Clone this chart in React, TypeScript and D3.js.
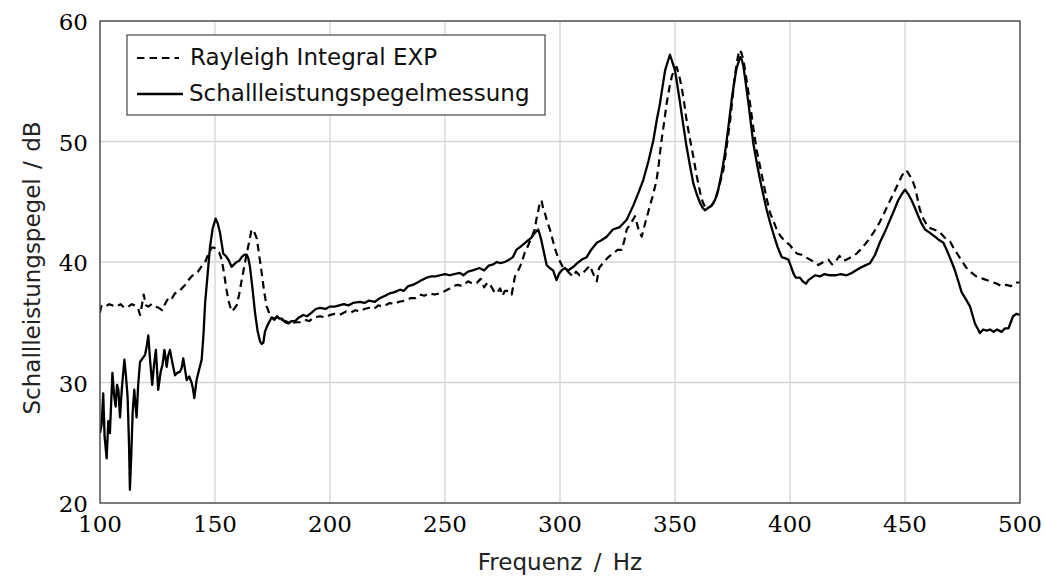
import React from "react";
import * as d3 from "d3";

const xTicks = [100, 150, 200, 250, 300, 350, 400, 450, 500];
const yTicks = [20, 30, 40, 50, 60];
const seriesNames = ["Rayleigh Integral EXP", "Schallleistungspegelmessung"];

// Schallleistungspegelmessung (solid): [Hz, dB]
const measured: [number, number][] = [
  [100, 25.8], [100.7, 26.5], [101.4, 29.1], [102, 25.5], [102.9, 23.7], [103.6, 26.8], [104.3, 25.8],
  [105.4, 30.8], [106.1, 29], [106.8, 28], [107.4, 29.8], [108, 29.4], [108.7, 27.1], [109.5, 29.5],
  [110.6, 31.9], [111.3, 30.5], [112, 28.8], [112.6, 25], [113, 21.1], [113.6, 24], [114.2, 27.5],
  [114.9, 29.4], [115.9, 27.1], [116.6, 29.8], [117.4, 31.7], [118.5, 32], [119.6, 32.3], [120.3, 33],
  [121, 33.9], [121.8, 31.8], [122.7, 29.8], [123.5, 31.5], [124.3, 32.7], [125.3, 29.4], [126.4, 30.9],
  [127.2, 31.5], [128, 32.7], [129, 31.3], [129.6, 32.2], [130.4, 32.7], [131.5, 31.6], [132.6, 30.6],
  [133.6, 30.8], [134.8, 30.9], [135.5, 31.2], [136.2, 32], [137.7, 30.2], [138.8, 30.5], [139.8, 30],
  [140.4, 29.5], [141, 28.7], [142, 30.2], [143, 31], [144.2, 31.9], [145, 34], [145.7, 36.6],
  [146.8, 39], [147.8, 41.2], [149, 42.8], [150.3, 43.6], [151.2, 43.2], [152.2, 42.4], [153.6, 40.7],
  [154.7, 40.5], [155.8, 40.2], [157.2, 39.6], [158.3, 39.8], [159.4, 40], [160.5, 40.1], [161.6, 40.4],
  [162.7, 40.6], [163.8, 40.6], [164.5, 40.3], [165.2, 39.6], [166.3, 37.8], [167.4, 35.8], [168.5, 34.3],
  [169.6, 33.4], [170.3, 33.2], [171, 33.3], [171.7, 34.2], [172.5, 34.6], [173.5, 35], [174.6, 35.4],
  [175.8, 35.2], [177, 35.5], [178, 35.3], [179, 35.3], [180.5, 35], [181.9, 34.9], [183.3, 35.1],
  [184.8, 35.1], [186.5, 35.4], [188.4, 35.6], [190, 35.5], [192, 35.8], [193.8, 36.1], [195.7, 36.2],
  [198, 36.1], [200, 36.3], [202, 36.3], [204, 36.4], [206, 36.5], [208, 36.4], [210, 36.6], [213, 36.7],
  [215, 36.6], [217, 36.8], [219.5, 36.7], [221.7, 37], [224, 37.2], [226, 37.4], [228, 37.5],
  [230.4, 37.7], [232, 37.6], [234, 38], [236, 38.1], [238, 38.3], [240, 38.5], [242, 38.7], [244, 38.8],
  [246, 38.8], [247.8, 38.9], [250, 39], [252, 38.9], [254, 39], [256.5, 39.1], [258, 38.9], [260, 39.2],
  [262, 39.3], [265, 39.5], [267, 39.3], [269, 39.7], [271, 39.8], [272.5, 40], [274, 39.9], [276, 40],
  [278, 40.2], [279.5, 40.4], [281, 41], [283, 41.3], [285.5, 41.7], [287.5, 42], [289, 42.4],
  [290.5, 42.7], [291.2, 42.3], [292, 41.7], [293, 40.8], [294.2, 39.75], [295.5, 39.5], [297, 39.3],
  [298.5, 38.5], [299.5, 39], [300.7, 39.3], [302, 39.5], [303.5, 39.3], [305.8, 39.6], [307.5, 39.9],
  [309.5, 40.2], [311.6, 40.4], [313.5, 41], [316, 41.6], [318, 41.8], [320.3, 42.1], [323, 42.7],
  [326, 42.9], [329, 43.5], [331.9, 44.7], [334, 45.7], [336.2, 46.8], [338.5, 48.4], [340.6, 50.1],
  [342, 51.7], [343.5, 53.2], [344.7, 54.7], [345.7, 55.9], [346.8, 56.6], [347.8, 57.2], [349, 56.5],
  [350, 55.9], [351, 54.7], [352.2, 53.2], [353.5, 51.5], [355, 49.6], [356.5, 48], [358, 46.5],
  [359.5, 45.6], [360.9, 44.9], [362, 44.5], [363, 44.3], [364.5, 44.5], [366, 44.7], [367.5, 45.2],
  [368.8, 46], [370.2, 47.3], [371.7, 49], [373.2, 51.2], [374.6, 53.4], [375.8, 55], [376.8, 56.1],
  [378.3, 57], [379, 56.8], [379.7, 56.3], [380.8, 54.8], [381.9, 53.2], [383, 51.5], [384, 49.9],
  [385.5, 48.3], [387, 46.8], [388.5, 45.5], [389.9, 44.3], [391.3, 43.3], [392.7, 42.4], [394.5, 41.3],
  [396.4, 40.4], [398, 40.3], [399.3, 40.2], [400.5, 39.6], [401.4, 39.1], [402.5, 38.7], [404.3, 38.7],
  [405.5, 38.4], [407, 38.2], [408, 38.5], [409.5, 38.7], [411, 38.9], [413, 38.8], [415, 39],
  [417.4, 38.9], [420, 38.9], [422, 39], [424.6, 38.9], [427, 39.1], [430.4, 39.5], [432.5, 39.7],
  [434.8, 39.9], [437, 40.6], [439, 41.6], [441.5, 42.6], [443.5, 43.5], [445.5, 44.4], [447, 45.1],
  [448.5, 45.6], [450, 46], [451.5, 45.6], [452.9, 45.1], [454.3, 44.5], [455.8, 43.8], [457.2, 43.2],
  [458.7, 42.7], [461, 42.4], [463, 42.1], [465, 41.8], [466.7, 41.6], [468.8, 40.7], [470.3, 40],
  [471.7, 39.3], [473.2, 38.4], [474.6, 37.5], [476.5, 36.9], [478.3, 36.3], [479.5, 35.5], [480.4, 34.9],
  [481.5, 34.5], [482.6, 34.1], [484, 34.4], [485.5, 34.3], [487, 34.4], [488.5, 34.2], [490, 34.4],
  [492, 34.2], [493.5, 34.5], [495, 34.5], [496, 35], [497, 35.5], [498.5, 35.7], [500, 35.6],
];

// Rayleigh Integral EXP (dashed): [Hz, dB]
const rayleigh: [number, number][] = [
  [100, 35.8], [100.5, 36.3], [101.1, 36.4], [102.5, 36.3], [104, 36.5], [105.4, 36.4], [107, 36.3],
  [109, 36.5], [110.5, 36.2], [112.3, 36.3], [113.8, 36.5], [115, 36.4], [116.5, 36.2], [117.4, 35.6],
  [118.3, 36.5], [119, 37.3], [120, 36.4], [121, 36.3], [122.5, 36.5], [124, 36.3], [125.5, 36.2],
  [127, 36], [128.5, 36.6], [130, 37.1], [131.3, 37], [132.6, 37.4], [134, 37.5], [135.5, 37.8],
  [137, 38.1], [138.5, 38.5], [139.8, 38.8], [141.2, 39], [142.6, 39.2], [144, 39.6], [145.7, 40],
  [147, 40.6], [148.6, 41.2], [149.6, 41.2], [150.7, 41], [151.8, 40.8], [152.9, 40.2], [154, 39],
  [155, 37.7], [156, 36.7], [157.2, 35.9], [158.3, 36.1], [159.4, 36.4], [160.5, 37.3], [161.6, 38.5],
  [162.7, 39.6], [163.8, 40.7], [165, 41.8], [165.9, 42.7], [166.8, 42.6], [168.1, 42], [169.2, 40.6],
  [170.3, 39.1], [171.4, 37.5], [172.5, 36.3], [173.5, 35.8], [174.6, 35.4], [176, 35.3], [177.5, 35.5],
  [179, 35.2], [180.5, 35.1], [182, 35], [183.5, 34.9], [185, 35], [187, 35], [189, 35.2], [191, 35.1],
  [193, 35.4], [195.7, 35.5], [198, 35.4], [200, 35.6], [202, 35.7], [204, 35.6], [207, 35.9], [209, 35.8],
  [211, 36], [213, 35.9], [215, 36.1], [217, 36.2], [219, 36.1], [221, 36.4], [223, 36.3], [226, 36.6],
  [228, 36.5], [230, 36.7], [233, 36.8], [235, 37], [237, 37], [239, 37.3], [241, 37.2], [243, 37.4],
  [245.5, 37.3], [248, 37.4], [250, 37.6], [252, 37.8], [253.6, 38], [255.5, 38.1], [257.5, 38],
  [260, 38.4], [262, 38.2], [263.8, 38.25], [265.5, 38.6], [267, 37.9], [268.5, 38.3], [270, 38],
  [271.5, 37.5], [272.5, 37.4], [274, 37.8], [275, 37.2], [276, 37.6], [277.5, 37.6], [279, 37.3],
  [280.4, 38.8], [281.8, 39.3], [283.3, 39.9], [284.7, 40.8], [286, 41.3], [287.5, 42], [289, 42.7],
  [289.8, 43.6], [290.6, 44.3], [291.3, 45], [292, 45.1], [292.8, 44.3], [293.5, 44], [294.5, 43.3],
  [295.6, 42.7], [297, 41.7], [298, 41], [299.3, 40.3], [300.4, 39.9], [301.4, 39.5], [303, 39.3],
  [304.5, 39], [305.8, 38.8], [307, 39.2], [308.5, 38.9], [310, 39.1], [311.5, 39.4], [313, 39.7],
  [314.5, 39], [316, 38.4], [317, 39.5], [318, 39.75], [319.5, 40.1], [321, 40.4], [323, 40.7],
  [325, 41], [326.8, 41], [328, 41.8], [329, 42.7], [330.8, 43.2], [332.6, 43.8], [334, 42.8],
  [335.5, 42.1], [337, 43.2], [339, 44.6], [340.5, 45.6], [342, 46.8], [343, 48.2], [344, 49.9],
  [345.2, 51.5], [346.4, 53.2], [347.5, 54.4], [348.6, 55.4], [349.6, 55.9], [350.7, 56.2], [351.8, 55.5],
  [352.9, 54.5], [354, 53.2], [355, 51.8], [356.5, 50.2], [358, 48.7], [359.5, 47.1], [361, 45.7],
  [362, 45], [363, 44.6], [364.3, 44.6], [365.5, 44.6], [366.8, 44.9], [368, 45.4], [369.5, 46.5],
  [371, 47.6], [372.5, 49.6], [374, 51.8], [375, 53.6], [376, 55.4], [377, 56.7], [378, 57.6],
  [378.8, 57.4], [379.7, 56.8], [381.2, 55], [382.6, 53.2], [384, 51.2], [385.5, 49.3], [387, 47.9],
  [388.4, 46.6], [389.8, 45.3], [391.3, 44.1], [392.8, 43.4], [394.2, 42.7], [395.7, 42.2], [397, 41.9],
  [398.6, 41.6], [400, 41.4], [401.5, 41], [403, 40.7], [405, 40.6], [406.8, 40.4], [408.7, 40.2],
  [410.5, 40], [412.3, 39.75], [414.5, 40], [416.7, 40.2], [418.3, 39.8], [420, 40.1], [421.5, 40.5],
  [423, 40.1], [424.6, 40.2], [426.5, 40.4], [429, 40.7], [431.5, 41.2], [434, 41.8], [436.5, 42.5],
  [439, 43.3], [441.3, 44.2], [443.5, 45.1], [445.3, 45.8], [447, 46.5], [448.5, 47.1], [450, 47.6],
  [451, 47.5], [452, 47.2], [453.2, 46.8], [454.3, 46.2], [455.4, 45.3], [456.5, 44.3], [458.2, 43.5],
  [460, 42.9], [462.5, 42.7], [465, 42.5], [467.4, 42], [469.6, 41.7], [471.3, 41.1], [473, 40.6],
  [475, 40], [476.8, 39.5], [479, 39.1], [481, 38.8], [484, 38.6], [487, 38.4], [490, 38.2], [492, 38],
  [494, 38.1], [496, 38], [498, 38.3], [500, 38.3],
];

const W = 1045;
const H = 581;
const margin = { left: 100, right: 25, top: 21, bottom: 78 };

export default function App() {
  const x = d3.scaleLinear().domain([100, 500]).range([margin.left, W - margin.right]);
  const y = d3.scaleLinear().domain([20, 60]).range([H - margin.bottom, margin.top]);
  const line = d3
    .line<[number, number]>()
    .x((d) => x(d[0]))
    .y((d) => y(d[1]));

  const x0 = x(100), x1 = x(500), y0 = y(20), y1 = y(60);
  const sans = "'DejaVu Sans', sans-serif";
  const serif = "'DejaVu Serif', serif";
  const dash = "7.5,5";

  return (
    <svg
      width={W}
      height={H}
      style={{ position: "absolute", left: 0, top: 0, background: "#fff" }}
    >
      <defs>
        <clipPath id="plotclip">
          <rect x={x0} y={y1} width={x1 - x0} height={y0 - y1} />
        </clipPath>
      </defs>
      {/* grid */}
      {xTicks.map((t) => (
        <line key={"gx" + t} x1={x(t)} x2={x(t)} y1={y1} y2={y0} stroke="#d4d4d4" strokeWidth={1.3} />
      ))}
      {yTicks.map((t) => (
        <line key={"gy" + t} x1={x0} x2={x1} y1={y(t)} y2={y(t)} stroke="#d4d4d4" strokeWidth={1.3} />
      ))}
      {/* curves */}
      <g clipPath="url(#plotclip)">
        <path d={line(rayleigh) || ""} fill="none" stroke="#000" strokeWidth={2.2} strokeDasharray={dash} strokeLinejoin="round" />
        <path d={line(measured) || ""} fill="none" stroke="#000" strokeWidth={2.3} strokeLinejoin="round" />
      </g>
      {/* frame */}
      <rect x={x0} y={y1} width={x1 - x0} height={y0 - y1} fill="none" stroke="#444" strokeWidth={1.3} />
      {/* tick labels */}
      {yTicks.map((t) => (
        <text key={"ty" + t} x={x0 - 12} y={y(t) + 1} textAnchor="end" dominantBaseline="central" fontFamily={serif} fontSize={23}>
          {t}
        </text>
      ))}
      {xTicks.map((t) => (
        <text key={"tx" + t} x={x(t)} y={y0 + 29} textAnchor="middle" fontFamily={serif} fontSize={23}>
          {t}
        </text>
      ))}
      {/* axis labels */}
      <text x={(x0 + x1) / 2} y={570} textAnchor="middle" fontFamily={sans} fontSize={23} wordSpacing={4} fill="#222">
        Frequenz / Hz
      </text>
      <text transform={`translate(40, ${(y0 + y1) / 2 + 6}) rotate(-90)`} textAnchor="middle" fontFamily={sans} fontSize={23} wordSpacing={2} fill="#222">
        Schallleistungspegel / dB
      </text>
      {/* legend */}
      <rect x={127} y={35} width={418} height={80} fill="#fff" stroke="#555" strokeWidth={1.3} />
      <line x1={137} x2={179} y1={58} y2={58} stroke="#000" strokeWidth={2.2} strokeDasharray={dash} />
      <line x1={137} x2={183} y1={94} y2={94} stroke="#000" strokeWidth={2.3} />
      <text x={190} y={65} fontFamily={sans} fontSize={23} fill="#111">
        {seriesNames[0]}
      </text>
      <text x={189} y={101} fontFamily={sans} fontSize={23} fill="#111">
        {seriesNames[1]}
      </text>
    </svg>
  );
}
